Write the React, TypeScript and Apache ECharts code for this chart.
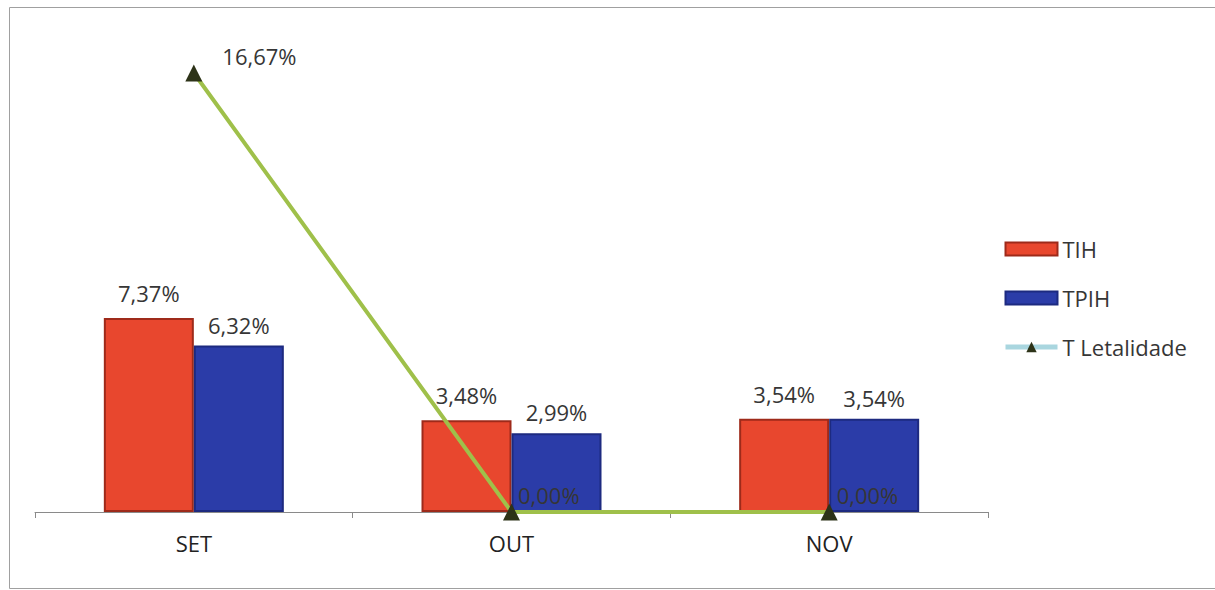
import React, { useEffect, useRef } from "react";
import * as echarts from "echarts";

const categories = ["SET", "OUT", "NOV"];
const tihValues = [7.37, 3.48, 3.54];
const tpihValues = [6.32, 2.99, 3.54];
const letalidadeValues = [16.67, 0.0, 0.0];
const seriesNames = ["TIH", "TPIH", "T Letalidade"];

const fmt = (v: number) => v.toFixed(2).replace(".", ",") + "%";

export default function App() {
  const ref = useRef<HTMLDivElement>(null);
  useEffect(() => {
    if (!ref.current) return;
    const chart = echarts.init(ref.current, null, { renderer: "svg" });
    const font = "'Open Sans', sans-serif";
    const textColor = "#363636";
    const lineOffsets = [
      [15, -17],
      [-7, -17],
      [-6, -17],
    ];
    chart.setOption({
      animation: false,
      backgroundColor: "#ffffff",
      textStyle: { fontFamily: font },
      graphic: [
        {
          type: "rect",
          shape: { x: 9.5, y: 7.5, width: 1215, height: 581 },
          style: { fill: "none", stroke: "#a0a0a0", lineWidth: 1 },
          silent: true,
          z: -1,
        },
      ],
      grid: { left: 35, right: 227, top: 38, bottom: 78 },
      legend: {
        orient: "vertical",
        left: 998,
        top: 233,
        itemWidth: 52,
        itemHeight: 13,
        itemGap: 27,
        textStyle: { fontSize: 22, color: textColor, fontFamily: font },
        data: [
          { name: seriesNames[0], icon: "rect" },
          { name: seriesNames[1], icon: "rect" },
          {
            name: seriesNames[2],
            lineStyle: { color: "#a9d6df", width: 5 },
            itemStyle: { color: "#2d3318" },
          },
        ],
      },
      xAxis: {
        type: "category",
        data: categories,
        axisLine: { lineStyle: { color: "#8a8a8a", width: 1 } },
        axisTick: { show: true, length: 6, lineStyle: { color: "#8a8a8a" } },
        axisLabel: { color: "#222222", fontSize: 22, margin: 20, fontFamily: font },
      },
      yAxis: {
        type: "value",
        min: 0,
        max: 18,
        show: false,
        splitLine: { show: false },
      },
      series: [
        {
          name: seriesNames[0],
          type: "bar",
          data: tihValues,
          barWidth: 90,
          barGap: "0%",
          itemStyle: { color: "#e8472e", borderColor: "#9e2a1a", borderWidth: 2 },
          label: {
            show: true,
            position: "top",
            distance: 14,
            fontSize: 22,
            color: textColor,
            fontFamily: font,
            formatter: (p: any) => fmt(p.value),
          },
          z: 2,
        },
        {
          name: seriesNames[1],
          type: "bar",
          data: tpihValues,
          barWidth: 90,
          barGap: "0%",
          itemStyle: { color: "#2b3ca8", borderColor: "#1d2a80", borderWidth: 2 },
          label: {
            show: true,
            position: "top",
            distance: 10,
            fontSize: 22,
            color: textColor,
            fontFamily: font,
            formatter: (p: any) => fmt(p.value),
          },
          z: 2,
        },
        {
          name: seriesNames[2],
          type: "line",
          data: letalidadeValues.map((v, i) => ({
            value: v,
            label: { offset: lineOffsets[i] },
          })),
          symbol: "triangle",
          symbolSize: 17,
          itemStyle: { color: "#2d3318" },
          lineStyle: { color: "#9fc04a", width: 4 },
          label: {
            show: true,
            position: "right",
            distance: 5,
            fontSize: 22,
            color: textColor,
            fontFamily: font,
            formatter: (p: any) => fmt(p.value),
          },
          z: 5,
        },
      ],
    });
    return () => chart.dispose();
  }, []);
  return (
    <div
      ref={ref}
      style={{ position: "absolute", left: 0, top: 0, width: 1215, height: 590 }}
    />
  );
}
